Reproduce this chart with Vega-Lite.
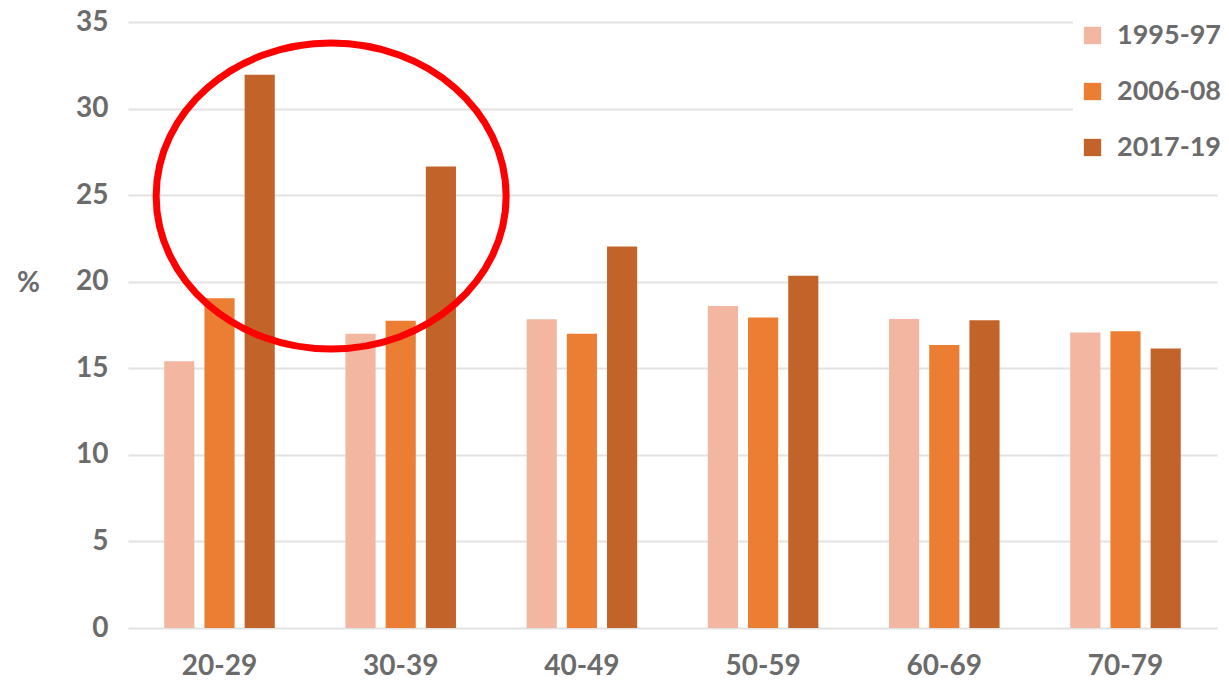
{
  "$schema": "https://vega.github.io/schema/vega-lite/v6.json",
  "width": 1089,
  "height": 606,
  "autosize": {"type": "none"},
  "padding": {"left": 128, "top": 22, "right": 12, "bottom": 55},
  "background": "white",
  "config": {
    "view": {"stroke": null},
    "font": "Lato"
  },
  "datasets": {
    "bars": [
      {"age": "20-29", "period": "1995-97", "value": 15.4},
      {"age": "20-29", "period": "2006-08", "value": 19.05},
      {"age": "20-29", "period": "2017-19", "value": 31.95},
      {"age": "30-39", "period": "1995-97", "value": 17.0},
      {"age": "30-39", "period": "2006-08", "value": 17.75},
      {"age": "30-39", "period": "2017-19", "value": 26.65},
      {"age": "40-49", "period": "1995-97", "value": 17.83},
      {"age": "40-49", "period": "2006-08", "value": 17.0},
      {"age": "40-49", "period": "2017-19", "value": 22.03},
      {"age": "50-59", "period": "1995-97", "value": 18.6},
      {"age": "50-59", "period": "2006-08", "value": 17.93},
      {"age": "50-59", "period": "2017-19", "value": 20.34},
      {"age": "60-69", "period": "1995-97", "value": 17.85},
      {"age": "60-69", "period": "2006-08", "value": 16.35},
      {"age": "60-69", "period": "2017-19", "value": 17.77},
      {"age": "70-79", "period": "1995-97", "value": 17.06},
      {"age": "70-79", "period": "2006-08", "value": 17.14},
      {"age": "70-79", "period": "2017-19", "value": 16.14}
    ],
    "highlight": [
      {"age": "20-29", "value": 24.95}
    ]
  },
  "layer": [
    {
      "data": {"name": "bars"},
      "mark": {"type": "bar"},
      "encoding": {
        "x": {
          "field": "age", "type": "nominal", "sort": null,
          "scale": {"paddingInner": 0.39, "paddingOuter": 0.2},
          "axis": {
            "title": null, "labelAngle": 0, "domain": false, "ticks": false,
            "labelFontSize": 28, "labelFontWeight": "bold", "labelColor": "#6b6b6b",
            "labelPadding": 24, "labelFont": "Lato"
          }
        },
        "xOffset": {
          "field": "period", "type": "nominal",
          "scale": {"paddingInner": 0.25, "paddingOuter": 0}
        },
        "y": {
          "field": "value", "type": "quantitative",
          "scale": {"domain": [0, 35], "nice": false},
          "axis": {
            "values": [0, 5, 10, 15, 20, 25, 30, 35],
            "domain": false, "ticks": false,
            "grid": true, "gridColor": "#e2e2e2", "gridWidth": 2,
            "labelFontSize": 28, "labelFontWeight": "bold", "labelColor": "#6b6b6b",
            "labelPadding": 20, "labelFont": "Lato",
            "title": "%", "titleAngle": 0, "titleFontSize": 28, "titleFontWeight": "bold",
            "titleColor": "#6b6b6b", "titleFont": "Lato",
            "titleX": -100, "titleY": 261, "titleAlign": "center", "titleBaseline": "middle"
          }
        },
        "color": {
          "field": "period", "type": "nominal",
          "scale": {
            "domain": ["1995-97", "2006-08", "2017-19"],
            "range": ["#f3b6a0", "#eb7e33", "#c2642a"]
          },
          "legend": {
            "title": null,
            "orient": "none",
            "legendX": 945,
            "legendY": -6,
            "fillColor": "white",
            "padding": 6,
            "symbolType": "square",
            "symbolSize": 300,
            "symbolStrokeWidth": 0,
            "labelFontSize": 27,
            "labelFontWeight": "bold",
            "labelColor": "#6b6b6b",
            "labelFont": "Lato",
            "labelOffset": 11,
            "rowPadding": 28
          }
        }
      }
    },
    {
      "data": {"name": "highlight"},
      "mark": {
        "type": "point",
        "shape": "M-1,0 A1,0.874 0 1,0 1,0 A1,0.874 0 1,0 -1,0 Z",
        "size": 122500,
        "filled": false,
        "stroke": "#ff0000",
        "strokeWidth": 7,
        "opacity": 1
      },
      "encoding": {
        "x": {"field": "age", "type": "nominal", "bandPosition": 1.51},
        "y": {"field": "value", "type": "quantitative"}
      }
    }
  ]
}
